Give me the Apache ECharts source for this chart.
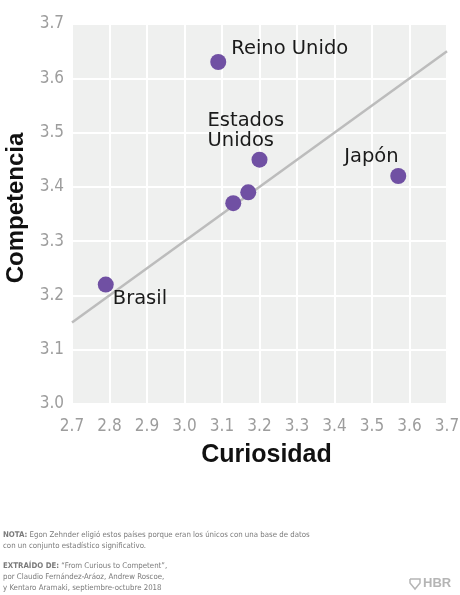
<!DOCTYPE html>
<html>
<head>
  <meta charset="UTF-8">
  <title>Curiosidad vs Competencia</title>
  <script src="https://cdn.jsdelivr.net/npm/echarts@6/dist/echarts.min.js"></script>
  <style>
    html, body { margin: 0; padding: 0; background: #fff; }
    #main { width: 460px; height: 595px; }
  </style>
</head>
<body>
<div id="main"></div>
<script type="text/javascript">
  // datos
  var paises = ['Reino Unido', 'Estados Unidos', '', '', 'Japón', 'Brasil'];
  var curiosidad = [3.09, 3.20, 3.17, 3.13, 3.57, 2.79];
  var competencia = [3.63, 3.45, 3.39, 3.37, 3.42, 3.22];
  // linea de tendencia (extremos)
  var tendenciaX = [2.7, 3.7];
  var tendenciaY = [3.15, 3.65];

  var labelFont = 'DejaVu Sans, sans-serif';
  var tickFont = 'Liberation Sans Narrow, DejaVu Sans Condensed, sans-serif';
  var titleFont = 'Liberation Sans, Arial, sans-serif';
  var notaFont = 'DejaVu Sans Condensed';

  // donde va cada etiqueta respecto al punto
  var etiquetas = {
    'Reino Unido': {text: 'Reino Unido', offset: [13, -13]},
    'Estados Unidos': {text: 'Estados\nUnidos', offset: [-52, -29]},
    'Japón': {text: 'Japón', offset: [-54, -19]},
    'Brasil': {text: 'Brasil', offset: [7, 14]}
  };

  var puntos = curiosidad.map(function (x, i) {
    var item = {name: paises[i], value: [x, competencia[i]]};
    var e = etiquetas[paises[i]];
    if (e) {
      item.label = {
        show: true,
        position: 'inside',
        align: 'left',
        verticalAlign: 'middle',
        offset: e.offset,
        formatter: e.text
      };
    }
    return item;
  });

  var tendencia = tendenciaX.map(function (x, i) {
    return [x, tendenciaY[i]];
  });

  var myChart = echarts.init(document.getElementById('main'));

  var notaRich = {
    b: {fontWeight: 'bold', fontSize: 7.8, fontFamily: notaFont, color: '#7a7a7a'}
  };

  var option = {
    animation: false,
    backgroundColor: '#fff',
    grid: {
      left: 72,
      right: 13,
      top: 24,
      bottom: 191,
      outerBoundsMode: 'none',
      containLabel: false,
      show: true,
      backgroundColor: '#eff0ef',
      borderWidth: 0
    },
    xAxis: {
      type: 'value',
      min: 2.7,
      max: 3.7,
      interval: 0.1,
      name: 'Curiosidad',
      nameLocation: 'middle',
      nameGap: 39,
      nameTextStyle: {fontFamily: titleFont, fontWeight: 'bold', fontSize: 25, color: '#111', padding: [0, 0, 0, 14]},
      axisLine: {show: false},
      axisTick: {show: false},
      axisLabel: {
        margin: 14,
        fontFamily: tickFont,
        fontSize: 17,
        color: '#9d9d9d',
        formatter: function (v) { return v.toFixed(1); }
      },
      splitLine: {show: true, lineStyle: {color: '#fff', width: 2}}
    },
    yAxis: {
      type: 'value',
      min: 3.0,
      max: 3.7,
      interval: 0.1,
      name: 'Competencia',
      nameLocation: 'middle',
      nameGap: 39,
      nameTextStyle: {fontFamily: titleFont, fontWeight: 'bold', fontSize: 24, color: '#111', padding: [0, 0, 0, 12]},
      axisLine: {show: false},
      axisTick: {show: false},
      axisLabel: {
        margin: 8,
        fontFamily: tickFont,
        fontSize: 17,
        color: '#9d9d9d',
        formatter: function (v) { return v.toFixed(1); }
      },
      splitLine: {show: true, lineStyle: {color: '#fff', width: 2}}
    },
    series: [
      {
        type: 'line',
        data: tendencia,
        symbol: 'none',
        silent: true,
        z: 1,
        lineStyle: {color: '#bcbcbc', width: 2.5}
      },
      {
        type: 'scatter',
        data: puntos,
        symbolSize: 16,
        z: 3,
        itemStyle: {color: '#7050a3', opacity: 1},
        label: {
          fontFamily: labelFont,
          fontSize: 19.5,
          lineHeight: 20,
          color: '#1a1a1a'
        }
      }
    ],
    graphic: [
      {
        type: 'text',
        left: 3,
        top: 529,
        style: {
          text: '{b|NOTA:} Egon Zehnder eligió estos países porque eran los únicos con una base de datos\ncon un conjunto estadístico significativo.',
          font: '7.8px ' + notaFont,
          fill: '#7a7a7a',
          lineHeight: 11.5,
          rich: notaRich
        }
      },
      {
        type: 'text',
        left: 3,
        top: 560,
        style: {
          text: '{b|EXTRAÍDO DE:} “From Curious to Competent”,\npor Claudio Fernández-Aráoz, Andrew Roscoe,\ny Kentaro Aramaki, septiembre-octubre 2018',
          font: '7.8px ' + notaFont,
          fill: '#7a7a7a',
          lineHeight: 11.2,
          rich: notaRich
        }
      },
      {
        type: 'polyline',
        shape: {points: [[410, 579], [420, 579], [420, 583], [415, 589], [410, 583], [410, 579]]},
        style: {stroke: '#b5b5b5', lineWidth: 1.5, fill: null}
      },
      {
        type: 'text',
        left: 423,
        top: 577,
        style: {
          text: 'HBR',
          font: 'bold 13px Liberation Sans',
          fill: '#b5b5b5'
        }
      }
    ]
  };

  myChart.setOption(option);
</script>
</body>
</html>
